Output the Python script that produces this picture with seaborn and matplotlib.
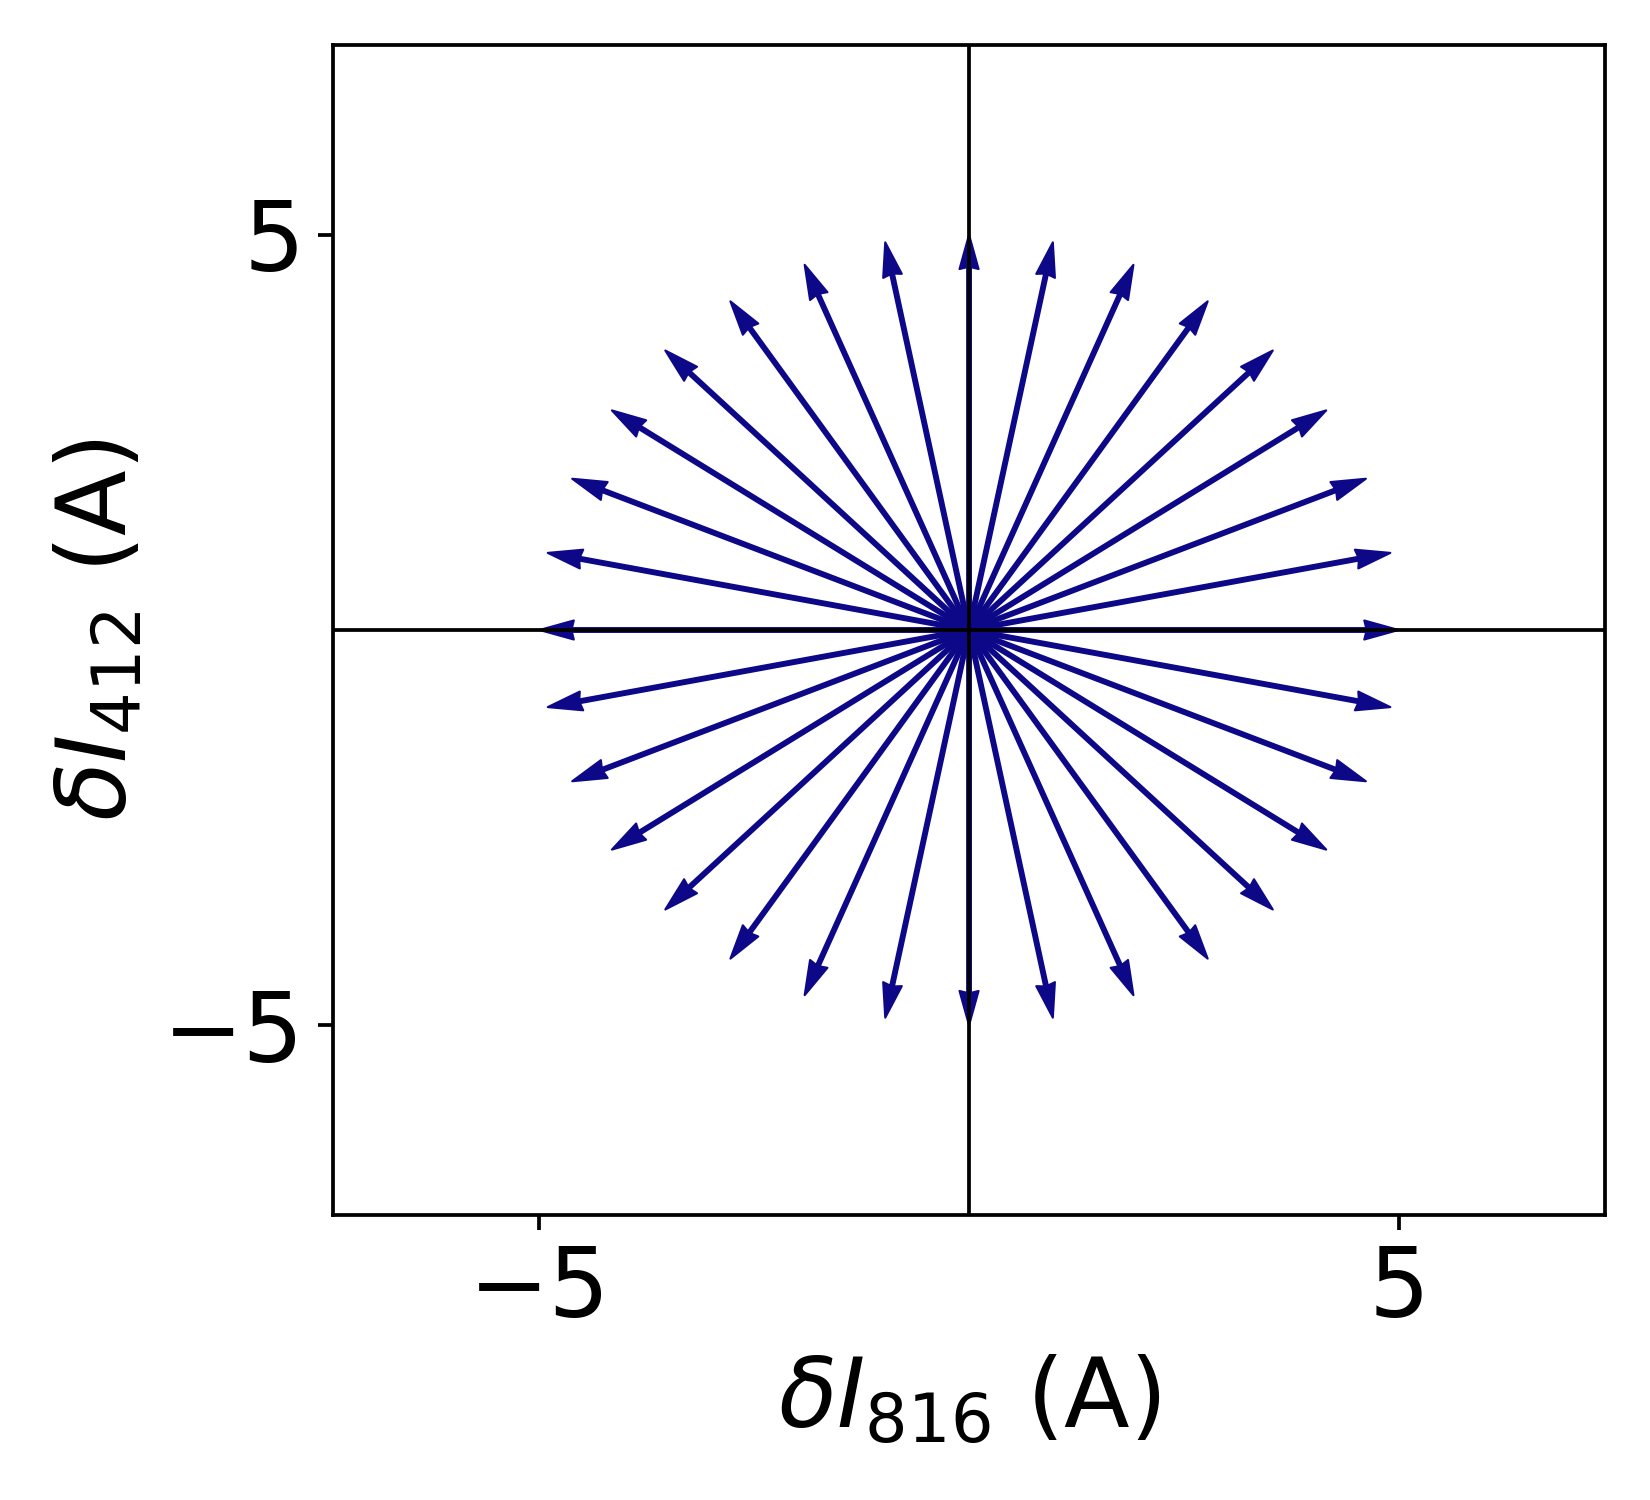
import numpy as np
import matplotlib
matplotlib.use("Agg")
import matplotlib.pyplot as plt
import seaborn as sns

# arrow directions (degrees) and magnitude
angles_deg = [0.0, 11.25, 22.5, 33.75, 45.0, 56.25, 67.5, 78.75,
              90.0, 101.25, 112.5, 123.75, 135.0, 146.25, 157.5, 168.75,
              180.0, 191.25, 202.5, 213.75, 225.0, 236.25, 247.5, 258.75,
              270.0, 281.25, 292.5, 303.75, 315.0, 326.25, 337.5, 348.75]
magnitude = 5.0
x_ticks = [-5, 5]
y_ticks = [-5, 5]
lim = 7.4

sns.set_style("ticks", {'axes.edgecolor': 'black', 'text.color': 'black',
                        'axes.labelcolor': 'black', 'xtick.color': 'black',
                        'ytick.color': 'black'})
plt.rcParams['font.family'] = ['DejaVu Sans']

theta = np.deg2rad(angles_deg)
u = magnitude * np.cos(theta)
v = magnitude * np.sin(theta)
origin = np.zeros(len(angles_deg))

fig = plt.figure(figsize=(5.5, 5), dpi=300)
ax = fig.add_axes([0.202, 0.19, 0.7706, 0.78])

ax.quiver(origin, origin, u, v, angles='xy', scale_units='xy', scale=1,
          color='#0d0887', edgecolor='#0d0887', linewidth=0.5,
          width=0.003, headwidth=5, headlength=9, headaxislength=8.5,
          zorder=2)
ax.axhline(0, color='black', lw=0.9, zorder=3)
ax.axvline(0, color='black', lw=0.9, zorder=3)

ax.set_xlim(-lim, lim)
ax.set_ylim(-lim, lim)
ax.set_xticks(x_ticks)
ax.set_yticks(y_ticks)
ax.tick_params(labelsize=23, width=0.9, length=3.5, colors='black')
for s in ax.spines.values():
    s.set_linewidth(0.9)
    s.set_color('black')
ax.set_xlabel(r'$\delta I_{816}$ (A)', fontsize=23, color='black')
ax.set_ylabel(r'$\delta I_{412}$ (A)', fontsize=23, color='black')

fig.savefig('out.png', dpi=300)
